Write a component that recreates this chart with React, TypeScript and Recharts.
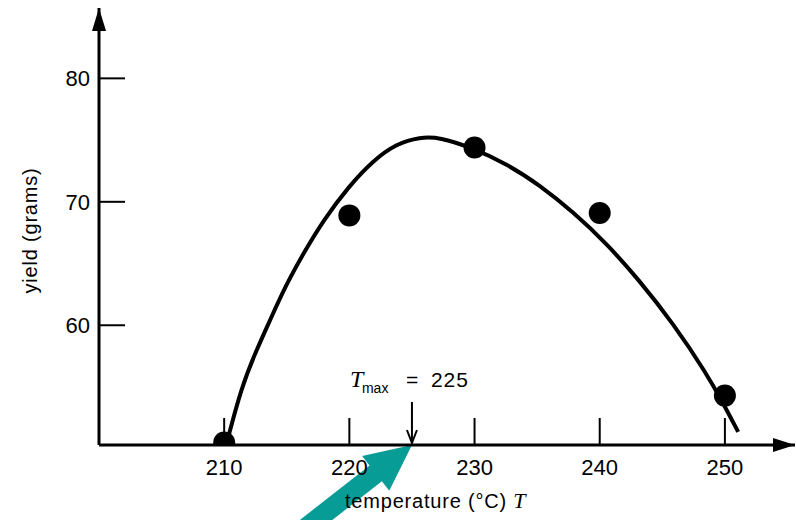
import React from 'react';
import {
  ComposedChart,
  Line,
  Scatter,
  XAxis,
  YAxis,
  ReferenceLine,
  ReferenceDot,
  Label
} from 'recharts';

// measured points (temperature, yield)
const temps = [210, 220, 230, 240, 250];
const yields = [50.5, 68.9, 74.4, 69.1, 54.3];

// fitted curve
const curveTemps = [210.33, 211.4, 212.46, 213.66, 214.86, 216.32, 217.92, 219.91, 221.91, 223.78, 225.64, 227.24, 229.63, 232.56, 235.22, 237.88, 240.55, 243.16, 245.87, 248.54, 249.87, 251.06];
const curveYields = [50.96, 55.0, 57.71, 60.4, 63.1, 65.81, 68.5, 71.2, 73.36, 74.71, 75.25, 75.22, 74.44, 73.09, 71.34, 69.17, 66.62, 63.64, 60.14, 56.09, 53.66, 51.36];

const xTicks = [210, 220, 230, 240, 250];
const yTicks = [60, 70, 80];

const tMax = 225;
const xMin = 200;
const xMax = 255.6;
const yMin = 50.3;
const yMax = 85.7;

// tail of the teal pointer (below the axis)
const pointerTail = { x: 216.3, y: 43.4 };

const points = temps.map((t, i) => ({ x: t, y: yields[i] }));
const curve = curveTemps.map((t, i) => ({ x: t, y: curveYields[i] }));

const SANS = '"Liberation Sans", Arial, sans-serif';
const SERIF = '"Liberation Serif", "Times New Roman", serif';

const XTick = ({ x, y, payload }: any) => (
  <g>
    <line x1={x} y1={y} x2={x} y2={y - 27} stroke="#000" strokeWidth={2} />
    <text x={x} y={y + 30} textAnchor="middle" fontSize={22} fontFamily={SANS} fill="#000">
      {payload.value}
    </text>
  </g>
);

const YTick = ({ x, y, payload }: any) => (
  <g>
    <line x1={x} y1={y} x2={x + 26} y2={y} stroke="#000" strokeWidth={2} />
    <text x={x - 9} y={y + 8} textAnchor="end" fontSize={22} fontFamily={SANS} fill="#000">
      {payload.value}
    </text>
  </g>
);

const TealArrow = (props: any) => {
  const { x1, y1, x2, y2 } = props;
  const dx = x2 - x1;
  const dy = y2 - y1;
  const len = Math.sqrt(dx * dx + dy * dy);
  const ux = dx / len;
  const uy = dy / len;
  const nx = -uy;
  const ny = ux;
  const head = 46;
  const hw = 22;
  const sw = 10;
  const bx = x2 - ux * head;
  const by = y2 - uy * head;
  const pts = [
    [x1 + nx * sw, y1 + ny * sw],
    [bx + nx * sw, by + ny * sw],
    [bx + nx * hw, by + ny * hw],
    [x2, y2],
    [bx - nx * hw, by - ny * hw],
    [bx - nx * sw, by - ny * sw],
    [x1 - nx * sw, y1 - ny * sw]
  ]
    .map(p => p.join(','))
    .join(' ');
  return <polygon points={pts} fill="#079c95" />;
};

const TmaxMark = ({ cx, cy }: any) => (
  <g>
    <line x1={cx} y1={cy - 43} x2={cx} y2={cy - 3} stroke="#000" strokeWidth={2} />
    <polyline
      points={`${cx - 5},${cy - 15} ${cx},${cy - 2} ${cx + 5},${cy - 15}`}
      fill="none"
      stroke="#000"
      strokeWidth={2}
    />
    <text x={cx - 62} y={cy - 58} fontSize={24} fontFamily={SERIF} fontStyle="italic" fill="#000">T</text>
    <text x={cx - 50} y={cy - 52} fontSize={14} fontFamily={SANS} fill="#000">max</text>
    <text x={cx - 6} y={cy - 58} fontSize={21} fontFamily={SANS} fill="#000">=</text>
    <text x={cx + 19} y={cy - 58} fontSize={21} fontFamily={SANS} fill="#000" letterSpacing={1}>225</text>
  </g>
);

const XArrowHead = ({ cx, cy }: any) => (
  <polygon points={`${cx},${cy} ${cx - 22},${cy - 7} ${cx - 22},${cy + 7}`} fill="#000" />
);

const YArrowHead = ({ cx, cy }: any) => (
  <polygon points={`${cx},${cy} ${cx - 7},${cy + 23} ${cx + 7},${cy + 23}`} fill="#000" />
);

const App: React.FC = () => {
  return (
    <div style={{ position: 'absolute', left: 0, top: 0, background: '#fff' }}>
      <ComposedChart width={796} height={520} margin={{ top: 8, right: 1, bottom: 0, left: 0 }}>
        <XAxis
          dataKey="x"
          type="number"
          domain={[xMin, xMax]}
          ticks={xTicks}
          allowDataOverflow
          height={75}
          tickSize={0}
          tickMargin={0}
          tickLine={false}
          tick={<XTick />}
          axisLine={{ stroke: '#000', strokeWidth: 3 }}
        >
          <Label
            content={({ viewBox }: any) => (
              <text
                x={(viewBox?.x ?? 99) + 246}
                y={(viewBox?.y ?? 445) + 63}
                fontSize={20}
                fontFamily={SANS}
                fill="#000"
                letterSpacing={0.8}
              >
                temperature (°C){'  '}
                <tspan fontFamily={SERIF} fontStyle="italic" fontSize={22}>T</tspan>
              </text>
            )}
          />
        </XAxis>
        <YAxis
          dataKey="y"
          type="number"
          domain={[yMin, yMax]}
          ticks={yTicks}
          allowDataOverflow
          width={99}
          tickSize={0}
          tickMargin={0}
          tickLine={false}
          tick={<YTick />}
          axisLine={{ stroke: '#000', strokeWidth: 3 }}
        >
          <Label
            content={({ viewBox }: any) => {
              const cx = 30;
              const cy = (viewBox?.y ?? 8) + (viewBox?.height ?? 437) / 2 + 4;
              return (
                <text
                  x={cx}
                  y={cy}
                  transform={`rotate(-90 ${cx} ${cy})`}
                  textAnchor="middle"
                  dominantBaseline="central"
                  fontSize={20}
                  fontFamily={SANS}
                  fill="#000"
                  letterSpacing={0.8}
                >
                  yield (grams)
                </text>
              );
            }}
          />
        </YAxis>
        <Line
          data={curve}
          dataKey="y"
          type="basis"
          stroke="#000"
          strokeWidth={4}
          dot={false}
          activeDot={false}
          isAnimationActive={false}
        />
        <Scatter
          data={points}
          dataKey="y"
          fill="#000"
          isAnimationActive={false}
          shape={(p: any) => <circle cx={p.cx} cy={p.cy} r={11} fill="#000" />}
        />
        <ReferenceDot x={xMax} y={yMin} ifOverflow="visible" shape={<XArrowHead />} />
        <ReferenceDot x={xMin} y={yMax} ifOverflow="visible" shape={<YArrowHead />} />
        <ReferenceDot x={tMax} y={yMin} ifOverflow="visible" shape={<TmaxMark />} />
        <ReferenceLine
          segment={[pointerTail, { x: tMax, y: yMin }]}
          ifOverflow="visible"
          shape={<TealArrow />}
        />
      </ComposedChart>
    </div>
  );
};

export default App;
